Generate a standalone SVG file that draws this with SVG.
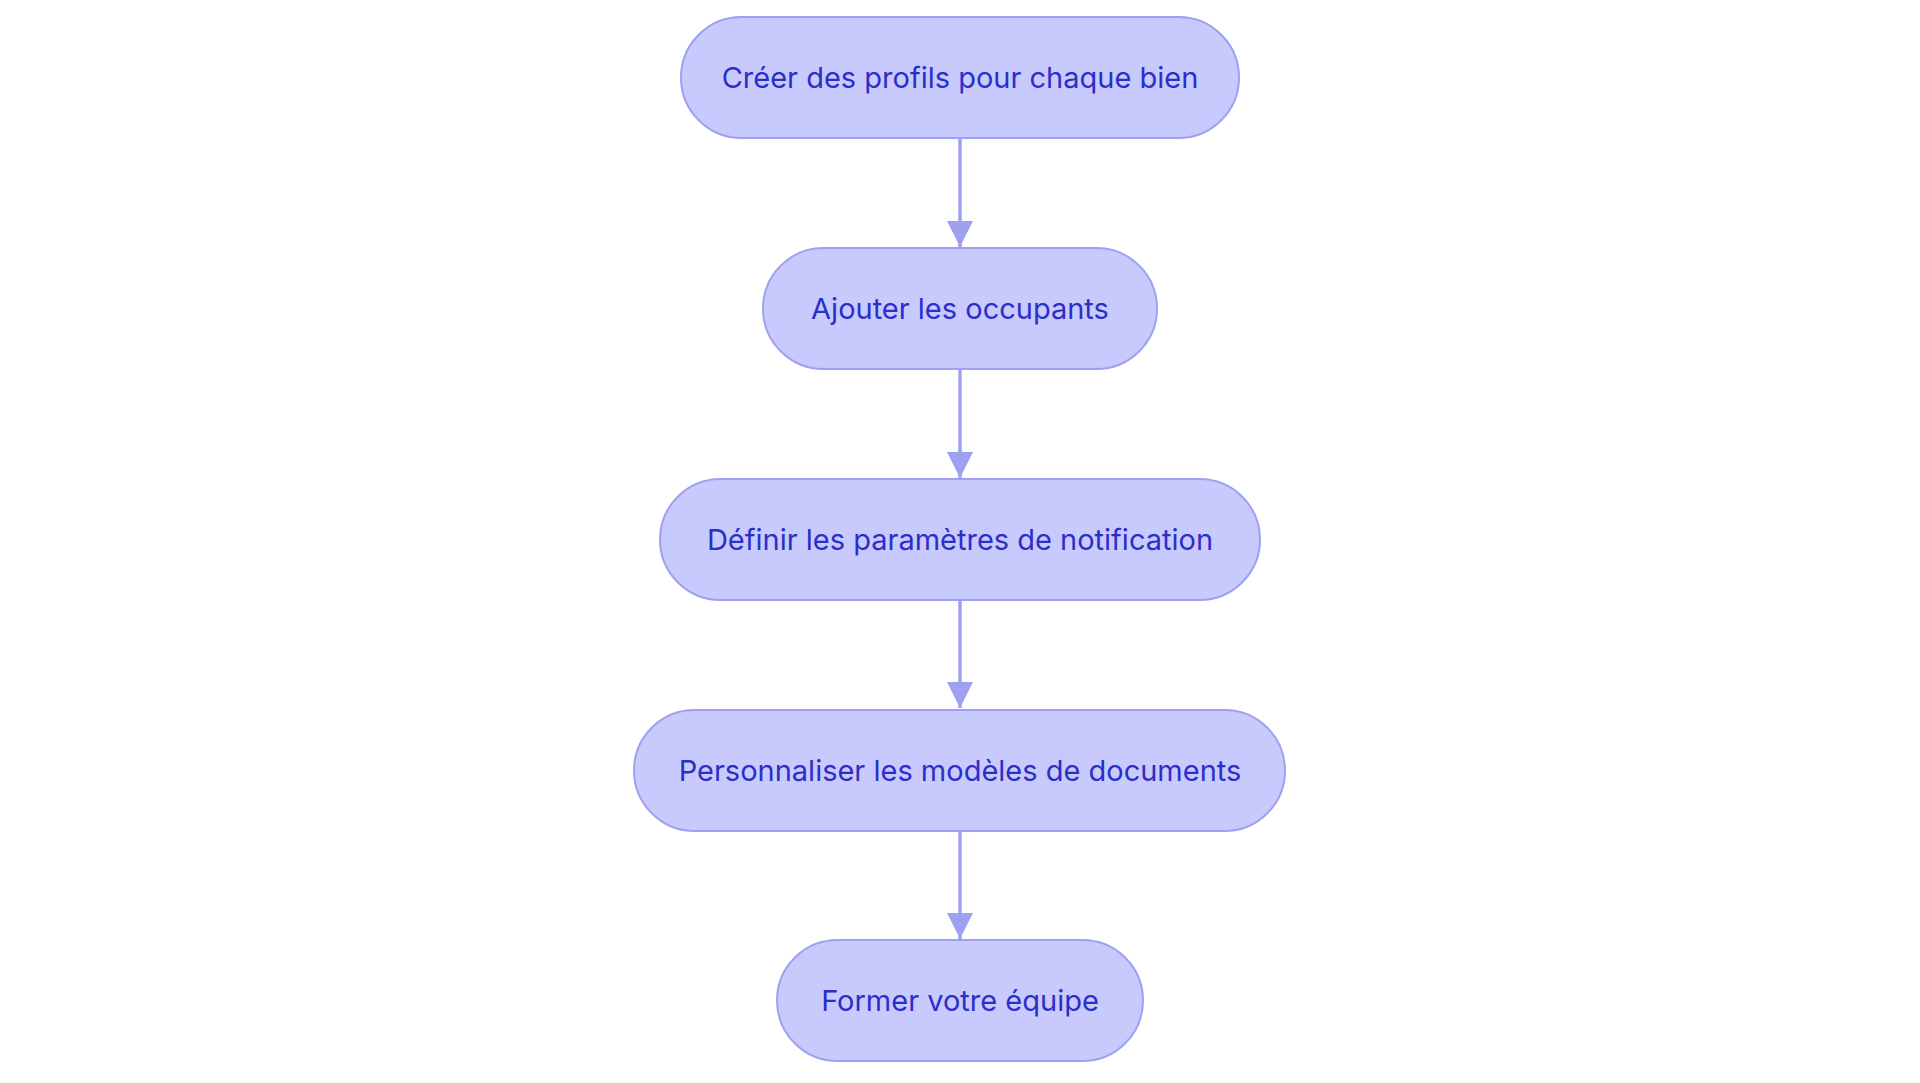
<svg xmlns="http://www.w3.org/2000/svg" width="1920" height="1083" viewBox="0 0 1920 1083">
<style>
.node rect{fill:#C8CAFD;stroke:#9DA1F0;stroke-width:2}
.node text{font-family:Inter,"Noto Sans",sans-serif;font-size:29px;fill:#2B2FC8;text-anchor:middle}
.edge{stroke:#9DA1F0;stroke-width:3.5;fill:none}
</style>
<defs>
<marker id="arr" viewBox="0 0 10 10" refX="10" refY="5" markerWidth="7.5" markerHeight="7.5" markerUnits="strokeWidth" orient="auto">
<path d="M0,0 L10,5 L0,10 z" fill="#9DA1F0"/>
</marker>
</defs>
<rect width="1920" height="1083" fill="#ffffff"/>
<g id="connectors">
<path class="edge" d="M960,138 L960,247" marker-end="url(#arr)"/>
<path class="edge" d="M960,369 L960,478" marker-end="url(#arr)"/>
<path class="edge" d="M960,600 L960,708" marker-end="url(#arr)"/>
<path class="edge" d="M960,831 L960,939" marker-end="url(#arr)"/>
</g>
<g id="n1" class="node"><rect x="681" y="17" width="558" height="121" rx="60.5"/><text x="960" y="88">Créer des profils pour chaque bien</text></g>
<g id="n2" class="node"><rect x="763" y="248" width="394" height="121" rx="60.5"/><text x="960" y="319">Ajouter les occupants</text></g>
<g id="n3" class="node"><rect x="660" y="479" width="600" height="121" rx="60.5"/><text x="960" y="550">Définir les paramètres de notification</text></g>
<g id="n4" class="node"><rect x="634" y="710" width="651" height="121" rx="60.5"/><text x="960" y="781">Personnaliser les modèles de documents</text></g>
<g id="n5" class="node"><rect x="777" y="940" width="366" height="121" rx="60.5"/><text x="960" y="1011">Former votre équipe</text></g>
</svg>
